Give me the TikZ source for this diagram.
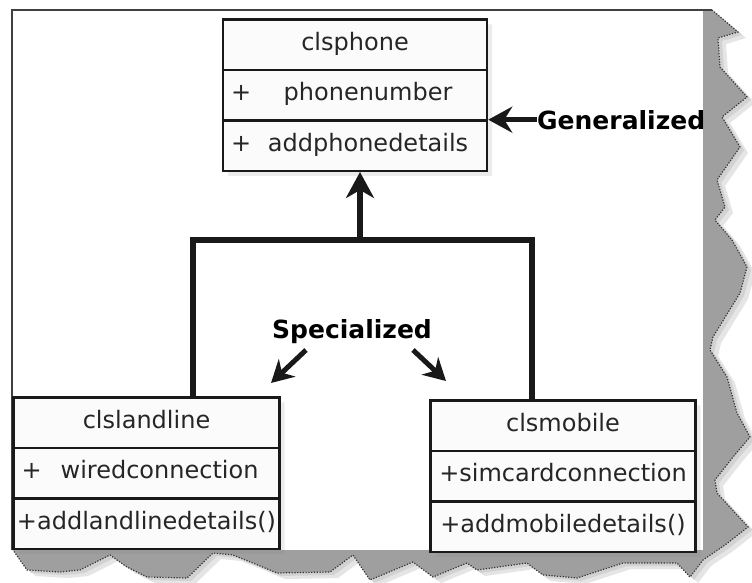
\documentclass[tikz,border=0pt]{standalone}
\usepackage{fontspec}
\usepackage{xcolor}
\usetikzlibrary{shapes.multipart,arrows.meta,shadows}
\newfontfamily\umlfont{DejaVu Sans}
\newcommand{\umlrow}[1]{\hspace{6pt}+\hspace{\fill}#1\hspace{\fill}\mbox{}}
\newcommand{\tornedge}{(712,10) -- (738,32) -- (718,38) -- (720,67) -- (747,97) -- (722,117) -- (740,147) -- (717,180) -- (725,207) -- (715,220) -- (732,240) -- (747,267) -- (740,293) -- (713,337) -- (710,350) -- (727,377) -- (737,413) -- (750,437) -- (733,457) -- (715,480) -- (717,493) -- (748,527) -- (725,545) -- (703,560) -- (690,577) -- (677,563) -- (623,563) -- (577,578) -- (543,575) -- (527,563) -- (477,570) -- (467,563) -- (433,577) -- (413,562) -- (370,580) -- (353,555) -- (330,572) -- (277,573) -- (253,563) -- (233,555) -- (213,553) -- (187,578) -- (147,577) -- (127,567) -- (110,555) -- (80,570) -- (60,572) -- (27,570) -- (13,550)}

\begin{document}
\begin{tikzpicture}[x=1pt,y=-1pt,
  every node/.style={font=\umlfont\fontsize{24}{28}\selectfont,text=black!85},
  classbox/.style={rectangle split,rectangle split parts=3,draw=black!90,line width=2.5pt,fill=gray!3,
    inner xsep=2pt,inner ysep=10pt,align=center,text width=#1,
    drop shadow={opacity=0.15,shadow xshift=5pt,shadow yshift=-5pt}},
  notetext/.style={font=\umlfont\bfseries\fontsize{25}{30}\selectfont,text=black,inner sep=0pt},
  genline/.style={line width=5.5pt,black!90},
  callout/.style={line width=5pt,black!90,-{Stealth[length=22pt,width=24pt,inset=7pt]}}]
\useasboundingbox (0,0) rectangle (752,582);
\fill[white] (0,0) rectangle (752,582);
\fill[gray!20,shift={(8,6)}] \tornedge -- (703,550) -- (703,10) -- cycle;
\fill[gray!35,shift={(4,3)}] \tornedge -- (703,550) -- (703,10) -- cycle;
\fill[gray!75] \tornedge -- (703,550) -- (703,10) -- cycle;
\draw[black!80,line width=1.2pt,dash pattern=on 1.2pt off 1.6pt] \tornedge;
\draw[black!75,line width=2pt] (712,10) -- (12,10) -- (12,550);
\node[classbox=260pt,anchor=north] (phone) at (355,18)
  {\strut clsphone \nodepart{two}\strut\umlrow{phonenumber} \nodepart{three}\strut\umlrow{addphonedetails}};
\node[classbox=262pt,anchor=north] (landline) at (146.5,396)
  {\strut clslandline \nodepart{two}\strut\umlrow{wiredconnection} \nodepart{three}\strut +addlandlinedetails()};
\node[classbox=261pt,anchor=north] (mobile) at (563,399)
  {\strut clsmobile \nodepart{two}\strut +simcardconnection \nodepart{three}\strut +addmobiledetails()};
\coordinate (joint) at (360,240);
\draw[genline] ([xshift=46.5pt]landline.north) |- (joint) -| ([xshift=-31pt]mobile.north);
\draw[genline,-{Stealth[length=26pt,width=28pt,inset=8pt]}] (joint) -- (joint |- phone.south);
\node[notetext,anchor=base west] (gen) at (537,129) {Generalized};
\draw[line width=4.5pt,black!90,-{Stealth[length=24pt,width=26pt,inset=8pt]}] (gen.west) -- (gen.west -| phone.east);
\node[notetext,anchor=base] (spec) at (352,338) {Specialized};
\coordinate (specL) at (271,383);
\coordinate (specR) at (446,381);
\draw[callout] ([shift={(-46,12)}]spec.base) -- (specL);
\draw[callout] ([shift={(61,12)}]spec.base) -- (specR);
\end{tikzpicture}
\end{document}
